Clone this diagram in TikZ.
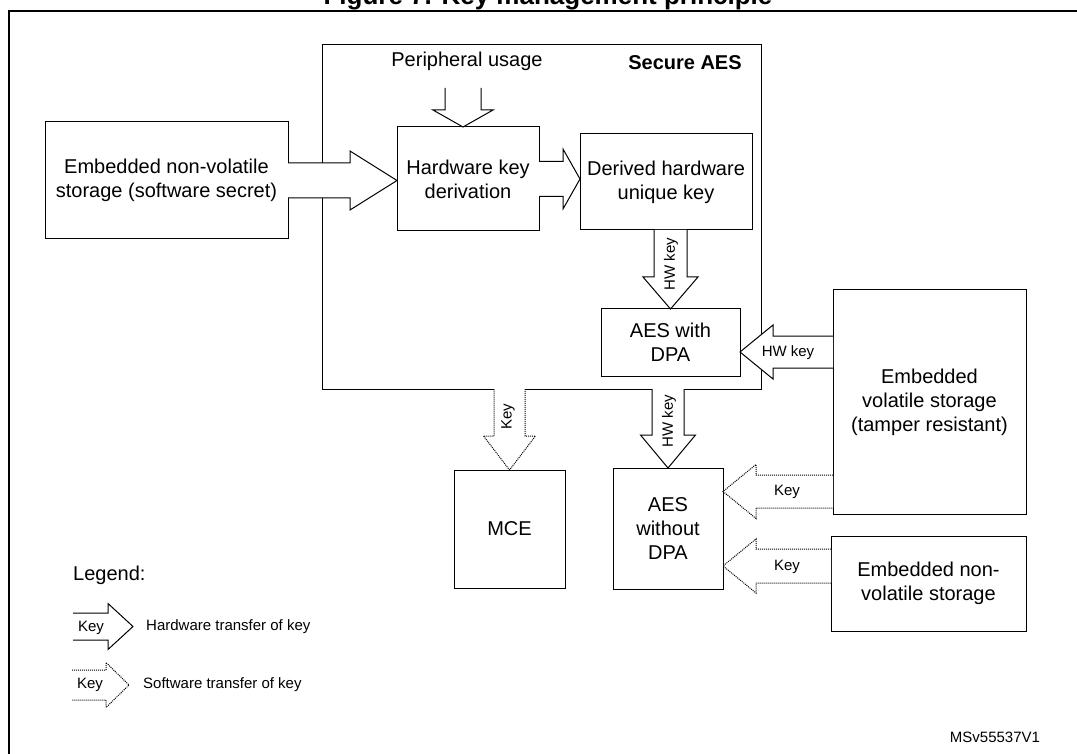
\documentclass[tikz,border=0pt]{standalone}
\usepackage{fontspec}
\setmainfont{Liberation Sans}
\usetikzlibrary{calc}
% block arrow, horizontal: style, from, to, shaft half, head half, head length
\newcommand\blkH[6]{%
  \path[#1] let \p1=(#2), \p2=(#3), \n1={(\x2>\x1) ? 1 : -1} in
    (\x1,{\y1+#4pt}) -- ({\x2-\n1*#6pt},{\y1+#4pt}) -- ({\x2-\n1*#6pt},{\y1+#5pt})
    -- (\x2,\y1) -- ({\x2-\n1*#6pt},{\y1-#5pt}) -- ({\x2-\n1*#6pt},{\y1-#4pt}) -- (\x1,{\y1-#4pt});}
% block arrow, vertical
\newcommand\blkV[6]{%
  \path[#1] let \p1=(#2), \p2=(#3), \n1={(\y2>\y1) ? 1 : -1} in
    ({\x1+#4pt},\y1) -- ({\x1+#4pt},{\y2-\n1*#6pt}) -- ({\x1+#5pt},{\y2-\n1*#6pt})
    -- (\x1,\y2) -- ({\x1-#5pt},{\y2-\n1*#6pt}) -- ({\x1-#4pt},{\y2-\n1*#6pt}) -- ({\x1-#4pt},\y1);}
\tikzset{
  box/.style={draw, line width=1pt, inner sep=0pt, outer sep=0pt, anchor=north west,
    align=center, font=\fontsize{20}{24}\selectfont},
  hwarrow/.style={draw, fill=white, line width=1pt},
  swarrow/.style={draw, fill=white, line width=1pt, densely dotted},
  lbl/.style={inner sep=0pt, font=\fontsize{15}{18}\selectfont},
  big/.style={inner sep=0pt, font=\fontsize{20}{24}\selectfont}
}
\begin{document}
\begin{tikzpicture}[x=1pt, y=-1pt]
\useasboundingbox (0,0) rectangle (1077,754);
\node[anchor=base, inner sep=0pt, font=\bfseries\fontsize{26}{28}\selectfont] (title) at (548,5) {Figure 7. Key management principle};
\draw[line width=2pt] (9,11) rectangle (1100,790);

% boxes
\node[box, minimum width=439pt, minimum height=344pt] (secure) at (322,45) {};
\node[big, anchor=base] (per) at (467,67) {Peripheral usage};
\node[big, anchor=base, font=\bfseries\fontsize{20}{24}\selectfont] (sectitle) at (685,70) {Secure AES};
\node[box, minimum width=243pt, minimum height=117pt] (envs1) at (45,122) {Embedded non-volatile\\storage (software secret)};
\node[box, minimum width=142pt, minimum height=104pt] (hkd) at (397,127) {Hardware key\\derivation};
\node[box, minimum width=172pt, minimum height=96pt] (dhuk) at (580,134) {Derived hardware\\unique key};
\node[box, minimum width=139pt, minimum height=67pt] (dpa) at (601,309) {AES with\\DPA};
\node[box, minimum width=193pt, minimum height=224pt] (evs) at (833,290) {Embedded\\volatile storage\\(tamper resistant)};
\node[box, minimum width=195pt, minimum height=95pt] (envs2) at (831,536) {Embedded non-\\volatile storage};
\node[box, minimum width=110pt, minimum height=121pt] (nodpa) at (613,468) {AES\\without\\DPA};
\node[box, minimum width=111pt, minimum height=118pt] (mce) at (454,470) {MCE};

% helper coordinates
\coordinate (pertop) at (463,88);
\coordinate (ax1) at (0,352);
\coordinate (ax2) at (0,491.5);
\coordinate (ax3) at (0,566);

% arrows
\blkV{hwarrow}{pertop}{pertop |- hkd.north}{18}{30}{17}
\blkH{hwarrow}{envs1.east}{hkd.west |- envs1.east}{17.5}{29.5}{47}
\blkH{hwarrow}{hkd.east}{dhuk.west |- hkd.east}{17.5}{30}{17}
\blkV{hwarrow}{dpa.north |- dhuk.south}{dpa.north}{16.5}{27.5}{32}
\blkH{hwarrow}{evs.west |- ax1}{dpa.east |- ax1}{16}{27}{33}
\blkV{hwarrow}{nodpa.north |- secure.south}{nodpa.north}{16}{27.5}{33}
\blkV{swarrow}{mce.north |- secure.south}{mce.north}{15.5}{26}{34}
\blkH{swarrow}{evs.west |- ax2}{nodpa.east |- ax2}{16.5}{27}{33}
\blkH{swarrow}{envs2.west |- ax3}{nodpa.east |- ax3}{17}{27}{33}

% arrow labels
\node[lbl, rotate=90] (l1) at (671,264) {HW key};
\node[lbl] (l2) at (788,353) {HW key};
\node[lbl, rotate=90] (l3) at (669,421) {HW key};
\node[lbl, rotate=90] (l4) at (508,417) {Key};
\node[lbl] (l5) at (787,492) {Key};
\node[lbl] (l6) at (787,567) {Key};

% legend
\node[big, anchor=west] (leg) at (73,575) {Legend:};
\coordinate (lg1a) at (73,626.5);
\coordinate (lg1b) at (133,626.5);
\coordinate (lg2a) at (72,685);
\coordinate (lg2b) at (129,685);
\blkH{hwarrow}{lg1a}{lg1b}{13.5}{23}{25}
\blkH{swarrow}{lg2a}{lg2b}{15}{22.5}{23}
\node[lbl] (lk1) at (91,628) {Key};
\node[lbl] (lk2) at (90,685) {Key};
\node[lbl, anchor=west] (ld1) at (146,627) {Hardware transfer of key};
\node[lbl, anchor=west] (ld2) at (143,685) {Software transfer of key};

\node[lbl] (ref) at (995,737) {MSv55537V1};
\end{tikzpicture}
\end{document}
